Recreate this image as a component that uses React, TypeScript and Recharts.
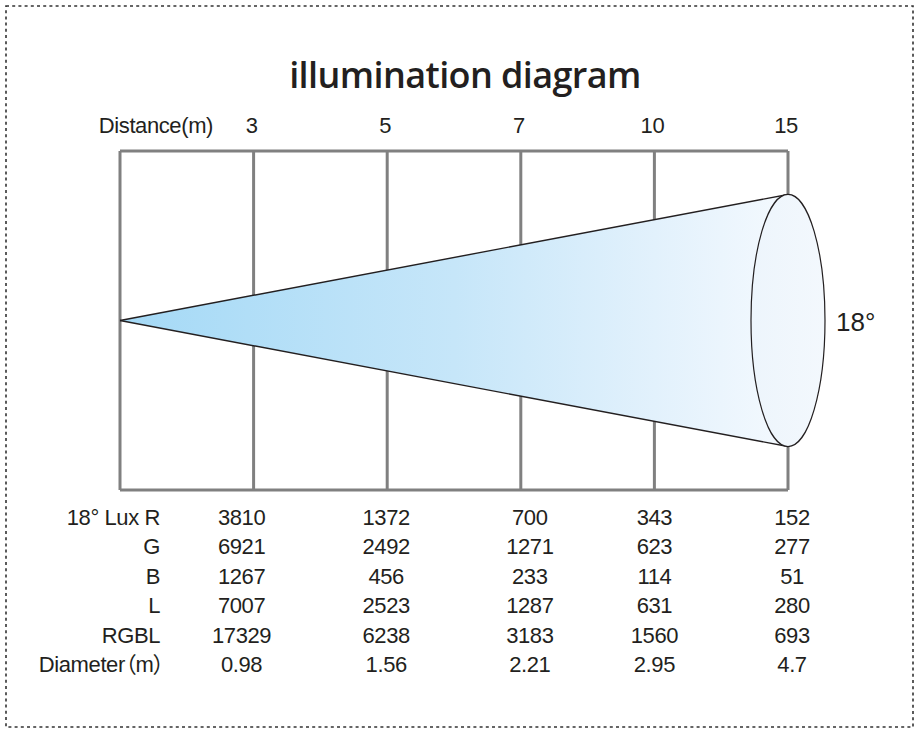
import { ComposedChart, Area, Scatter, XAxis, YAxis, CartesianGrid } from "recharts";

// index 0 is the fixture, 1..5 are the measuring distances
const DISTANCES = [3, 5, 7, 10, 15];
const AXIS_TITLE = "Distance(m)";
const BEAM_ANGLE = "18°";

const ROW_LABELS = ["18° Lux R", "G", "B", "L", "RGBL", "Diameter（m）"];
const LUX_R = [3810, 1372, 700, 343, 152];
const LUX_G = [6921, 2492, 1271, 623, 277];
const LUX_B = [1267, 456, 233, 114, 51];
const LUX_L = [7007, 2523, 1287, 631, 280];
const LUX_RGBL = [17329, 6238, 3183, 1560, 693];
const DIAMETERS = ["0.98", "1.56", "2.21", "2.95", "4.7"];

const TABLE = [LUX_R, LUX_G, LUX_B, LUX_L, LUX_RGBL, DIAMETERS];
const POSITIONS = [0, ...DISTANCES.map((_, i) => i + 1)];
const LAST = DISTANCES.length;
const endRadius = Number(DIAMETERS[LAST - 1]) / 2;

const coneData = [
  { pos: 0, spread: [0, 0] },
  { pos: LAST, spread: [-endRadius, endRadius] },
];
const spotData = [{ pos: LAST, y: 0, radius: endRadius }];

// layout
const W = 916;
const H = 729;
const PLOT_TOP = 151;
const PLOT_BOTTOM = 490;
const Y_EXTENT = 3.16;
const FONT = "'Liberation Sans', Arial, 'Noto Sans CJK SC', sans-serif";
const TEXT = "#231f20";
const COL_NUDGE = [0, -12, -1, 9, 0, 4];
const ROW_STEP = 29.4;

// "palt" trims the wide side bearings of the full-width brackets
const textStyle = {
  fontSize: 22,
  fontFamily: FONT,
  fill: TEXT,
  letterSpacing: -0.4,
  fontFeatureSettings: '"palt"',
};

function TopTick(props: any) {
  const { x, y, payload } = props;
  const i = payload.value;
  if (i === 0) {
    return (
      <text x={x + 93} y={y - 18} textAnchor="end" style={textStyle}>
        {AXIS_TITLE}
      </text>
    );
  }
  return (
    <text x={x - 2} y={y - 18} textAnchor="middle" style={textStyle}>
      {DISTANCES[i - 1]}
    </text>
  );
}

function TableTick(props: any) {
  const { x, y, payload } = props;
  const i = payload.value;
  if (i === 0) {
    return (
      <g>
        {ROW_LABELS.map((label, r) => (
          <text key={r} x={x + (label.includes("）") ? 44 : 40)} y={y + 35 + r * ROW_STEP} textAnchor="end" style={textStyle}>
            {label}
          </text>
        ))}
      </g>
    );
  }
  return (
    <g>
      {TABLE.map((row, r) => (
        <text key={r} x={x + COL_NUDGE[i]} y={y + 35 + r * ROW_STEP} textAnchor="middle" style={textStyle}>
          {row[i - 1]}
        </text>
      ))}
    </g>
  );
}

function SpotShape(props: any) {
  const { cx, cy, payload } = props;
  const pxPerUnit = (PLOT_BOTTOM - PLOT_TOP) / (2 * Y_EXTENT);
  const ry = payload.radius * pxPerUnit;
  const rx = 37;
  return (
    <g>
      <ellipse cx={cx} cy={cy} rx={rx} ry={ry} fill="url(#spotFill)" stroke="#231f20" strokeWidth={1.2} />
      <text x={cx + rx + 11} y={cy + 10} fontSize={26} fontFamily={FONT} fill={TEXT}>
        {BEAM_ANGLE}
      </text>
    </g>
  );
}

export default function App() {
  return (
    <div style={{ position: "absolute", left: 0, top: 0, width: W, height: H, background: "#fff" }}>
      <svg width={W} height={H} style={{ position: "absolute", left: 0, top: 0 }}>
        <rect x={6} y={6} width={907} height={721} fill="none" stroke="#333" strokeWidth={1.6} strokeDasharray="3 3.2" />
      </svg>
      <div
        style={{
          position: "absolute",
          left: 7,
          width: W,
          top: 50,
          textAlign: "center",
          fontFamily: "'Open Sans', sans-serif",
          fontSize: 36,
          fontWeight: 600,
          lineHeight: "50px",
          color: TEXT,
          letterSpacing: -0.6,
        }}
      >
        illumination diagram
      </div>
      <div style={{ position: "absolute", left: 0, top: 0 }}>
        <ComposedChart width={W} height={H} margin={{ top: PLOT_TOP - 30, right: 128, bottom: H - PLOT_BOTTOM - 200, left: 120 }}>
          <defs>
            <linearGradient id="coneFill" x1="0" y1="0" x2="1" y2="0">
              <stop offset="0%" stopColor="#a4d9f6" />
              <stop offset="50%" stopColor="#c6e6f9" />
              <stop offset="80%" stopColor="#e2f1fc" />
              <stop offset="100%" stopColor="#f4f9fe" />
            </linearGradient>
            <linearGradient id="spotFill" x1="0" y1="0" x2="1" y2="0">
              <stop offset="0%" stopColor="#edf5fc" />
              <stop offset="100%" stopColor="#f3f8fd" />
            </linearGradient>
          </defs>
          <CartesianGrid stroke="#808080" strokeWidth={3} />
          <XAxis
            type="number"
            dataKey="pos"
            orientation="top"
            domain={[0, LAST]}
            ticks={POSITIONS}
            interval={0}
            height={30}
            axisLine={false}
            tickLine={false}
            tickSize={0}
            tickMargin={0}
            tick={<TopTick />}
          />
          <XAxis
            xAxisId="table"
            type="number"
            dataKey="pos"
            orientation="bottom"
            domain={[0, LAST]}
            ticks={POSITIONS}
            interval={0}
            height={200}
            axisLine={false}
            tickLine={false}
            tickSize={0}
            tickMargin={0}
            tick={<TableTick />}
          />
          <YAxis type="number" domain={[-Y_EXTENT, Y_EXTENT]} ticks={[-Y_EXTENT, Y_EXTENT]} hide />
          <Area
            data={coneData}
            dataKey="spread"
            type="linear"
            fill="url(#coneFill)"
            fillOpacity={1}
            stroke="#231f20"
            strokeWidth={1.4}
            dot={false}
            activeDot={false}
            isAnimationActive={false}
          />
          <Scatter
            xAxisId="table"
            data={spotData}
            dataKey="y"
            shape={<SpotShape />}
            isAnimationActive={false}
          />
        </ComposedChart>
      </div>
    </div>
  );
}
